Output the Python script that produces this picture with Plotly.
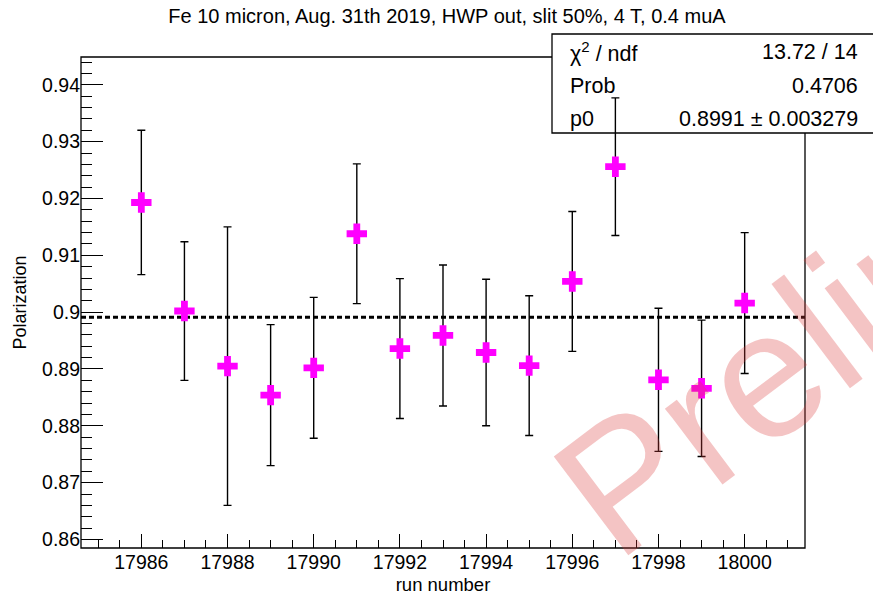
import plotly.graph_objects as go

# ---- data ----
run_numbers = [17986, 17987, 17988, 17989, 17990, 17991, 17992, 17993,
               17994, 17995, 17996, 17997, 17998, 17999, 18000]
polarization = [0.9193, 0.9002, 0.8905, 0.8854, 0.8902, 0.9138, 0.8936, 0.8959,
                0.8929, 0.8906, 0.9054, 0.9256, 0.8881, 0.8866, 0.9016]
pol_error = [0.0127, 0.0122, 0.0245, 0.0124, 0.0124, 0.0123, 0.0123, 0.0124,
             0.0129, 0.0123, 0.0123, 0.0121, 0.0126, 0.0120, 0.0124]

fit_p0 = 0.8991
stats_labels = ["χ<sup>2</sup> / ndf", "Prob", "p0"]
stats_values = ["13.72 / 14", "0.4706", "0.8991 ± 0.003279"]

x_tickvals = [17986, 17988, 17990, 17992, 17994, 17996, 17998, 18000]
x_ticktext = ["17986", "17988", "17990", "17992", "17994", "17996", "17998", "18000"]
y_tickvals = [0.86, 0.87, 0.88, 0.89, 0.90, 0.91, 0.92, 0.93, 0.94]
y_ticktext = ["0.86", "0.87", "0.88", "0.89", "0.9", "0.91", "0.92", "0.93", "0.94"]

x_range = [17984.6, 18001.4]
y_range = [0.8585, 0.9449]

title_text = "Fe 10 micron, Aug. 31th 2019, HWP out, slit 50%, 4 T, 0.4 muA"
watermark = "Preliminary"

FONT = "Liberation Sans, Arial, Helvetica, sans-serif"

fig = go.Figure()

# fit line (constant p0)
fig.add_trace(go.Scatter(
    x=x_range, y=[fit_p0, fit_p0], mode="lines",
    line=dict(color="black", width=3, dash="5px,3px"),
    hoverinfo="skip", showlegend=False))

# data points with error bars
fig.add_trace(go.Scatter(
    x=run_numbers, y=polarization, mode="markers",
    marker=dict(symbol="cross", size=17, color="#ff00ff", line=dict(width=0)),
    error_y=dict(type="data", array=pol_error, visible=True,
                 color="black", thickness=1.4, width=4),
    showlegend=False))

L, R, T, B = 81, 68, 57, 47
W, H = 873, 595
pw, ph = W - L - R, H - T - B

def px_x(px):
    return (px - L) / pw

def px_y(py):
    return (H - B - py) / ph

shapes = [
    # frame
    dict(type="rect", xref="paper", yref="paper", x0=0, x1=1, y0=0, y1=1,
         line=dict(color="black", width=1.3), fillcolor="rgba(0,0,0,0)", layer="below"),
    # stats box
    dict(type="rect", xref="paper", yref="paper",
         x0=px_x(552), x1=px_x(885), y0=px_y(133), y1=px_y(34),
         line=dict(color="black", width=1.3), fillcolor="white", layer="below"),
]

annotations = []
row_y = [52, 86, 119]
for lab, val, ry in zip(stats_labels, stats_values, row_y):
    annotations.append(dict(xref="paper", yref="paper", x=px_x(568), y=px_y(ry),
                            xanchor="left", yanchor="middle", showarrow=False,
                            text=lab, font=dict(family=FONT, size=21.5, color="black")))
    annotations.append(dict(xref="paper", yref="paper", x=px_x(860), y=px_y(ry),
                            xanchor="right", yanchor="middle", showarrow=False,
                            text=val, font=dict(family=FONT, size=21.5, color="black")))

# watermark
annotations.append(dict(xref="paper", yref="paper", x=px_x(938), y=px_y(243),
                        xanchor="center", yanchor="middle", showarrow=False,
                        text=watermark, textangle=-37,
                        font=dict(family=FONT, size=180, color="rgba(220,60,60,0.3)")))

fig.update_layout(
    width=W, height=H,
    margin=dict(l=L, r=R, t=T, b=B),
    paper_bgcolor="white", plot_bgcolor="rgba(0,0,0,0)",
    font=dict(family=FONT, color="black"),
    title=dict(text=title_text, x=0.512, xanchor="center", xref="container",
               y=1 - 16 / H, yanchor="middle", yref="container",
               font=dict(family=FONT, size=20, color="black")),
    shapes=shapes, annotations=annotations,
    showlegend=False,
)

fig.update_xaxes(
    range=x_range, tickmode="array", tickvals=x_tickvals, ticktext=x_ticktext,
    ticks="inside", ticklen=14, tickwidth=1.3, tickcolor="black",
    minor=dict(dtick=0.5, tick0=17986, ticks="inside", ticklen=8,
               tickwidth=1.3, tickcolor="black", showgrid=False),
    showgrid=False, zeroline=False, showline=False, automargin=False,
    tickfont=dict(family=FONT, size=19.5, color="black"),
    title=dict(text="run number", standoff=6, font=dict(family=FONT, size=18.5, color="black")),
)
fig.update_yaxes(
    range=y_range, tickmode="array", tickvals=y_tickvals, ticktext=y_ticktext,
    ticks="inside", ticklen=22, tickwidth=1.3, tickcolor="black",
    minor=dict(dtick=0.002, tick0=0.86, ticks="inside", ticklen=11,
               tickwidth=1.3, tickcolor="black", showgrid=False),
    showgrid=False, zeroline=False, showline=False, automargin=False,
    tickfont=dict(family=FONT, size=19.5, color="black"),
    title=dict(text="Polarization", standoff=10, font=dict(family=FONT, size=18, color="black")),
)

fig.write_html("out.html")
